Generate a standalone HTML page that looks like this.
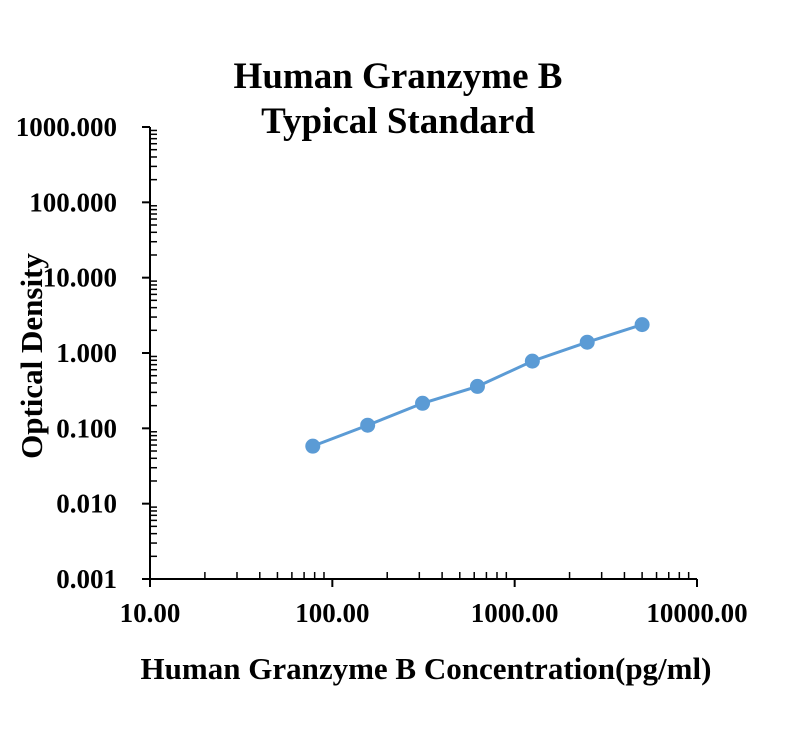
<!DOCTYPE html>
<html><head><meta charset="utf-8"><style>
body{margin:0;background:#fff}
svg text{font-family:"Liberation Serif",serif;font-weight:bold;fill:#000}
</style></head><body>
<svg width="800" height="728">
<text x="398" y="88" text-anchor="middle" font-size="37">Human Granzyme B</text>
<text x="398" y="133" text-anchor="middle" font-size="37">Typical Standard</text>
<g id="axes"></g>
<g id="series"></g>
<text x="426" y="679" text-anchor="middle" font-size="31">Human Granzyme B Concentration(pg/ml)</text>
<text transform="translate(42,356) rotate(-90)" text-anchor="middle" font-size="31">Optical Density</text>
</svg>
<script>
const concentrations=[78.125,156.25,312.5,625,1250,2500,5000];
const densities=[0.058,0.11,0.215,0.36,0.78,1.39,2.38];
const xTickLabels=["10.00","100.00","1000.00","10000.00"];
const yTickLabels=["0.001","0.010","0.100","1.000","10.000","100.000","1000.000"];
const NS="http://www.w3.org/2000/svg";
const X0=150,X1=697,Y0=579,Y1=127;
function xs(v){return X0+(Math.log10(v)-1)/3*(X1-X0);}
function ys(v){return Y0-(Math.log10(v)+3)/6*(Y0-Y1);}
function mk(t,a,p){const e=document.createElementNS(NS,t);for(const k in a)e.setAttribute(k,a[k]);p.appendChild(e);return e;}
const ax=document.getElementById('axes');
let l=mk('line',{x1:X0,y1:Y0,x2:X1,y2:Y0,stroke:'#000','stroke-width':2},ax);


l=mk('line',{x1:X0,y1:Y0,x2:X0,y2:Y1,stroke:'#000','stroke-width':2},ax);


xTickLabels.forEach((s,i)=>{const v=Math.pow(10,i+1),x=xs(v);
 mk('line',{x1:x,y1:Y0,x2:x,y2:Y0+8,stroke:'#000','stroke-width':2},ax);
 const t=mk('text',{x:x,y:Y0+43,'text-anchor':'middle','font-size':27},ax);t.textContent=s;
 
 
 if(i<3)for(let m=2;m<10;m++){const mx=xs(m*v);mk('line',{x1:mx,y1:Y0,x2:mx,y2:Y0-7,stroke:'#000','stroke-width':1.5},ax);}
});
yTickLabels.forEach((s,i)=>{const v=Math.pow(10,i-3),y=ys(v);
 mk('line',{x1:X0-8,y1:y,x2:X0,y2:y,stroke:'#000','stroke-width':2},ax);
 const t=mk('text',{x:X0-33,y:y+9,'text-anchor':'end','font-size':27},ax);t.textContent=s;
 
 
 if(i<6)for(let m=2;m<10;m++){const my=ys(m*v);mk('line',{x1:X0,y1:my,x2:X0+7,y2:my,stroke:'#000','stroke-width':1.5},ax);}
});
const sg=document.getElementById('series');
const pts=concentrations.map((c,i)=>xs(c)+','+ys(densities[i])).join(' ');
const pl=mk('polyline',{points:pts,fill:'none',stroke:'#5b9bd5','stroke-width':3},sg);


concentrations.forEach((c,i)=>{const p=mk('circle',{cx:xs(c),cy:ys(densities[i]),r:7.5,fill:'#5b9bd5'},sg);
 
 });
</script>
</body></html>
